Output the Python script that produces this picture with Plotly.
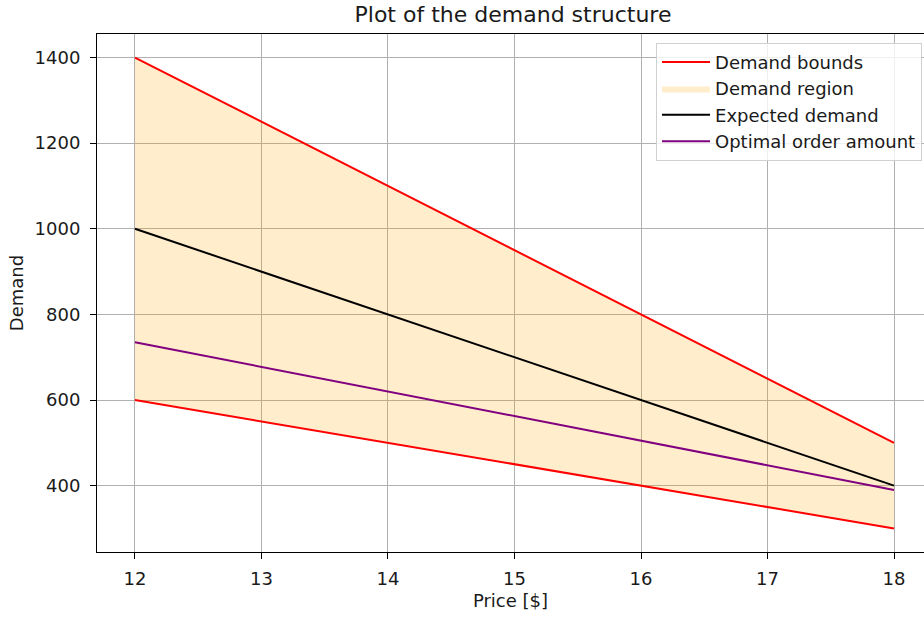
import plotly.graph_objects as go

# Demand structure over the price range
price = [12, 13, 14, 15, 16, 17, 18]
demand_upper = [1400, 1250, 1100, 950, 800, 650, 500]
demand_lower = [600, 550, 500, 450, 400, 350, 300]
expected_demand = [1000, 900, 800, 700, 600, 500, 400]
optimal_order = [735, 677.5, 620, 562.5, 505, 447.5, 390]

x_ticks = [12, 13, 14, 15, 16, 17, 18]
y_ticks = [400, 600, 800, 1000, 1200, 1400]

FONT = "DejaVu Sans"
FS = 18
TXT = "#1a1a1a"

fig = go.Figure()

# shaded region between the bounds
fig.add_trace(go.Scatter(x=price, y=demand_lower, mode="lines",
                         line=dict(width=0, color="rgba(0,0,0,0)"),
                         showlegend=False, hoverinfo="skip"))
fig.add_trace(go.Scatter(x=price, y=demand_upper, mode="lines", fill="tonexty",
                         fillcolor="rgba(255,165,0,0.2)",
                         line=dict(width=0, color="rgba(255,165,0,0.2)"),
                         name="Demand region", legendrank=2))

fig.add_trace(go.Scatter(x=price, y=demand_upper, mode="lines",
                         line=dict(color="red", width=2),
                         name="Demand bounds", legendrank=1))
fig.add_trace(go.Scatter(x=price, y=demand_lower, mode="lines",
                         line=dict(color="red", width=2),
                         showlegend=False))
fig.add_trace(go.Scatter(x=price, y=expected_demand, mode="lines",
                         line=dict(color="black", width=2),
                         name="Expected demand", legendrank=3))
fig.add_trace(go.Scatter(x=price, y=optimal_order, mode="lines",
                         line=dict(color="purple", width=2),
                         name="Optimal order amount", legendrank=4))

axis_common = dict(
    showgrid=True, gridcolor="#b0b0b0", gridwidth=1,
    showline=True, linecolor="black", linewidth=1,
    ticks="outside", ticklen=6, tickcolor="black", tickwidth=1,
    zeroline=False, tickfont=dict(family=FONT, size=FS, color=TXT),
)

fig.update_layout(
    width=924, height=617,
    margin=dict(l=97, r=0, t=34, b=65),
    paper_bgcolor="white", plot_bgcolor="white",
    font=dict(family=FONT, size=FS, color=TXT),
    title=dict(text="Plot of the demand structure", x=0.503, xref="paper",
               xanchor="center", y=1 - 14 / 617, yref="container",
               yanchor="middle", font=dict(family=FONT, size=22, color=TXT)),
    xaxis=dict(range=[11.7, 18.237], tickvals=x_ticks, mirror=True,
               ticklabelstandoff=4,
               title=dict(text="Price [$]", standoff=6,
                          font=dict(family=FONT, size=FS, color=TXT)),
               **axis_common),
    yaxis=dict(range=[245, 1455], tickvals=y_ticks, mirror=False,
               ticklabelstandoff=6,
               title=dict(text="Demand", standoff=6,
                          font=dict(family=FONT, size=FS, color=TXT)),
               **axis_common),
    legend=dict(x=0.9976, y=0.983, xanchor="right", yanchor="top",
                traceorder="normal", itemwidth=48,
                bgcolor="rgba(255,255,255,0.8)", bordercolor="#d0d0d0",
                borderwidth=1, font=dict(family=FONT, size=FS, color=TXT),
                tracegroupgap=0),
    showlegend=True,
)

fig.write_html("out.html")
